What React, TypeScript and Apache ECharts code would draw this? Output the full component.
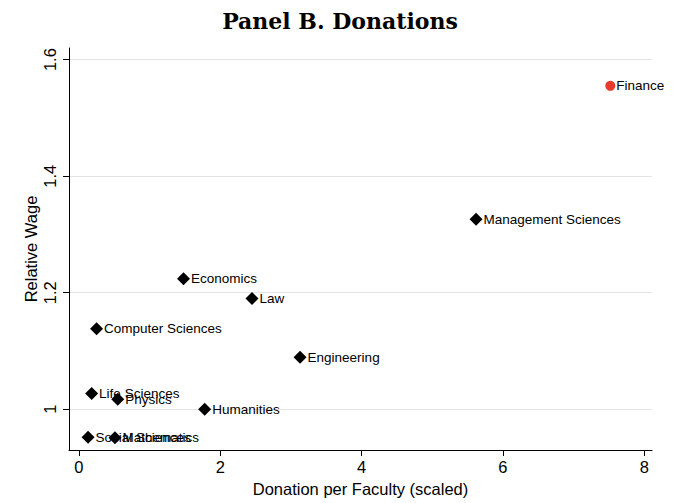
import React, { useEffect, useRef } from "react";
import * as echarts from "echarts";

const fields = [
  "Finance",
  "Management Sciences",
  "Economics",
  "Law",
  "Computer Sciences",
  "Engineering",
  "Life Sciences",
  "Physics",
  "Humanities",
  "Social Sciences",
  "Mathematics",
];
const donation = [7.52, 5.62, 1.48, 2.45, 0.25, 3.13, 0.18, 0.55, 1.78, 0.13, 0.51];
const relWage = [1.555, 1.326, 1.224, 1.19, 1.138, 1.089, 1.027, 1.017, 1.0, 0.952, 0.951];
const xTicks = [0, 2, 4, 6, 8];
const yTicks = [1, 1.2, 1.4, 1.6];
const highlight = "Finance";

export default function App() {
  const ref = useRef<HTMLDivElement>(null);
  useEffect(() => {
    if (!ref.current) return;
    const chart = echarts.init(ref.current, null, { renderer: "svg" });
    const font = "Liberation Sans, Arial, Helvetica, sans-serif";
    const pts = fields.map((f, i) => ({ name: f, value: [donation[i], relWage[i]] }));
    const others = pts.filter((p) => p.name !== highlight);
    const hi = pts.filter((p) => p.name === highlight);
    const label = {
      show: true,
      position: "right",
      distance: 1,
      formatter: (p: any) => p.name,
      color: "#000",
      fontFamily: font,
      fontSize: 13.5,
    };
    chart.setOption({
      animation: false,
      backgroundColor: "#fff",
      title: {
        text: "Panel B. Donations",
        left: "center",
        top: 5,
        textStyle: {
          fontFamily: "DejaVu Serif, serif",
          fontWeight: "bold",
          fontSize: 22,
          color: "#000",
        },
      },
      grid: { left: 69, right: 28, top: 48, bottom: 53, containLabel: false },
      xAxis: {
        type: "value",
        min: -0.14,
        max: 8.11,
        name: "Donation per Faculty (scaled)",
        nameLocation: "middle",
        nameGap: 30,
        nameMoveOverlap: false,
        nameTextStyle: { fontFamily: font, fontSize: 16.5, color: "#000" },
        axisLine: { show: true, onZero: false, lineStyle: { color: "#000", width: 1 } },
        axisTick: { show: true, length: 6, customValues: xTicks, lineStyle: { color: "#000" } },
        axisLabel: { customValues: xTicks, fontFamily: font, fontSize: 16.5, color: "#000", margin: 8 },
        splitLine: { show: false },
      },
      yAxis: {
        type: "value",
        min: 0.93,
        max: 1.62,
        name: "Relative Wage",
        nameLocation: "middle",
        nameGap: 30,
        nameMoveOverlap: false,
        nameTextStyle: { fontFamily: font, fontSize: 16.5, color: "#000" },
        axisLine: { show: true, onZero: false, lineStyle: { color: "#000", width: 1 } },
        axisTick: { show: true, length: 6, customValues: yTicks, lineStyle: { color: "#000" } },
        axisLabel: {
          customValues: yTicks,
          rotate: 90,
          fontFamily: font,
          fontSize: 16.5,
          color: "#000",
          margin: 11,
        },
        splitLine: { show: true, lineStyle: { color: "#e4e4e4", width: 1 } },
      },
      series: [
        {
          type: "scatter",
          data: others,
          symbol: "diamond",
          symbolSize: 13,
          itemStyle: { color: "#000", opacity: 1 },
          label,
        },
        {
          type: "scatter",
          data: hi,
          symbol: "circle",
          symbolSize: 10,
          itemStyle: { color: "#e8392a", opacity: 1 },
          label,
        },
      ],
    });
    return () => chart.dispose();
  }, []);
  return <div ref={ref} style={{ width: 680, height: 503, position: "absolute", left: 0, top: 0 }} />;
}
